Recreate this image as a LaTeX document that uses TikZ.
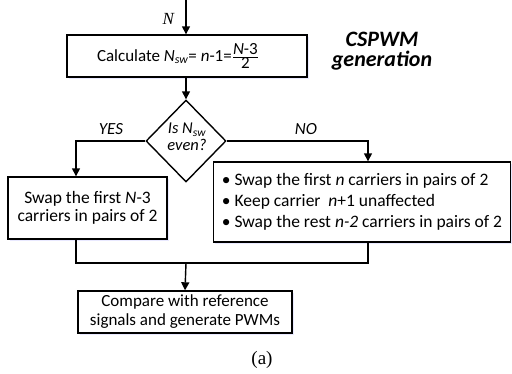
\documentclass[tikz,border=0pt]{standalone}
\usepackage{fontspec}
\setmainfont{Carlito}
\newfontfamily\timesfont{Liberation Serif}
\usetikzlibrary{arrows.meta,shapes.geometric,shadows}
\begin{document}
\begin{tikzpicture}[x=1pt,y=-1pt,
  line width=1.4pt,
  flow/.style={-{Triangle[length=8pt,width=8pt]}},
  procbox/.style={draw, fill=white, inner sep=0pt, align=center,
    drop shadow={shadow xshift=1.5pt, shadow yshift=-2pt, fill=blue!25, opacity=0.35}},
  branchlabel/.style={font=\fontsize{17}{18}\selectfont\itshape}]
\useasboundingbox (0,0) rectangle (512,373);

% input and first computation
\coordinate (in) at (186,0);
\node[procbox, minimum width=240pt, minimum height=42pt] (calc) at (187,56) {};
\node[font=\fontsize{17}{18}\selectfont] (calctext) at (178,56)
  {Calculate \textit{N}\textsubscript{\itshape sw}= \textit{n}-1=$\frac{\hbox{\itshape N\upshape-3}}{\hbox{2}}$};
\node[font=\timesfont\fontsize{17}{20}\selectfont\itshape, anchor=east] (nlab) at (178,19) {N};

\node[font=\fontsize{22}{20}\selectfont\bfseries\itshape, align=center] (title) at (382,51)
  {CSPWM\\generation};

% decision
\node[draw, fill=white, diamond, minimum width=80pt, minimum height=82pt, inner sep=0pt] (dec) at (186,141) {};
\node[font=\fontsize{16.5}{17}\selectfont\itshape, align=center] (dectext) at (187,137)
  {Is \textit{N}\textsubscript{sw}\\even?};

% branches
\node[procbox, font=\fontsize{17.5}{18}\selectfont, minimum width=159pt, minimum height=62pt] (yesbox) at (87.5,208)
  {Swap the first \textit{N}-3\\carriers in pairs of 2};
\node[procbox, font=\fontsize{17.5}{21}\selectfont, minimum width=297pt, minimum height=80pt,
  align=left] (nobox) at (362,202)
  {\textbullet\ Swap the first \textit{n} carriers in pairs of 2\\
   \textbullet\ Keep carrier\ \ \textit{n}+1 unaffected\\
   \textbullet\ Swap the rest \textit{n-2} carriers in pairs of 2};

\node[procbox, font=\fontsize{17}{19}\selectfont, minimum width=214pt, minimum height=42pt] (cmp) at (185,312)
  {Compare with reference\\signals and generate PWMs};

\node[branchlabel] (yes) at (111,129) {YES};
\node[branchlabel] (no) at (306,129) {NO};

\node[font=\timesfont\fontsize{19}{22}\selectfont] (cap) at (262,360) {(a)};

% connectors
\coordinate (lturn) at (76,141);
\coordinate (rturn) at (368,141);
\coordinate (jl) at (76,263);
\coordinate (jr) at (368,263);
\coordinate (jm) at (186,263);

\draw[flow] (in) -- (in |- calc.north);
\draw[flow] (dec.north |- calc.south) -- (dec.north);
\draw[flow] (dec.west) -- (lturn) -- (lturn |- yesbox.north);
\draw[flow] (dec.east) -- (rturn) -- (rturn |- nobox.north);
\draw (lturn |- yesbox.south) -- (jl) -- (jr) -- (rturn |- nobox.south);
\draw[flow] (jm) -- (cmp.north);
\end{tikzpicture}
\end{document}
